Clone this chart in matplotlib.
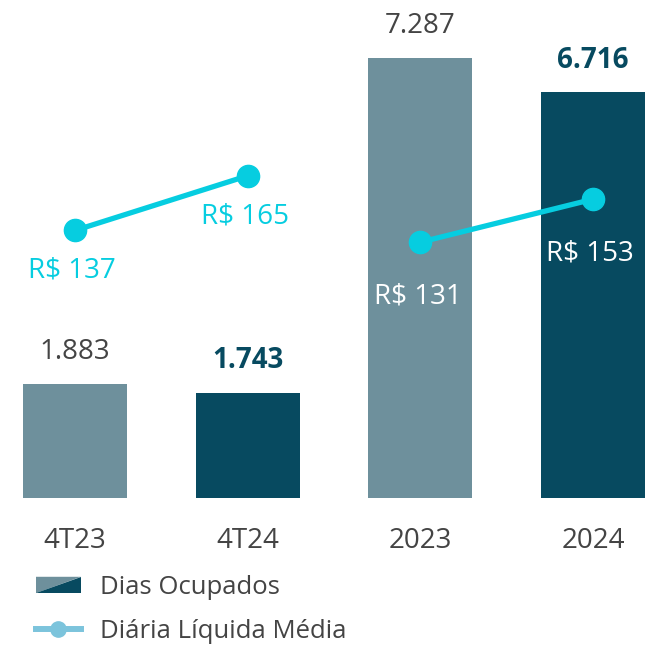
import numpy as np
import matplotlib.pyplot as plt
from matplotlib.patches import Polygon
from matplotlib.lines import Line2D
from matplotlib.legend_handler import HandlerBase

plt.rcParams['font.family'] = ['Open Sans', 'DejaVu Sans']

categories = ['4T23', '4T24', '2023', '2024']
dias_ocupados = [1883, 1743, 7287, 6716]
dias_labels = ['1.883', '1.743', '7.287', '6.716']
diaria_media = [137, 165, 131, 153]
diaria_labels = ['R$ 137', 'R$ 165', 'R$ 131', 'R$ 153']

light = '#6E909C'
dark = '#074A60'
cyan = '#06CDE0'
gray = '#444444'

bar_colors = [light, dark, light, dark]
label_colors = [gray, dark, gray, dark]
label_weights = ['normal', 'bold', 'normal', 'bold']

W, H = 666, 649
fig = plt.figure(figsize=(W / 100, H / 100), dpi=100)
base = 151
ax = fig.add_axes([0, base / H, 1, (H - base) / H])
x = np.arange(len(categories))
px_per_unit = 172.7
ax.set_xlim(-75 / px_per_unit, (W - 75) / px_per_unit)
ax.set_ylim(0, 8248)

ax.bar(x, dias_ocupados, width=104 / px_per_unit, color=bar_colors)
for xi, v, lab, c, w in zip(x, dias_ocupados, dias_labels, label_colors, label_weights):
    ax.annotate(lab, (xi, v), xytext=(0, 32), textcoords='offset pixels',
                ha='center', va='center', fontsize=20, color=c, fontweight=w)

ax.set_xticks(x)
ax.set_xticklabels(categories, fontsize=20, color=gray)
ax.tick_params(length=0, pad=21)
ax.set_yticks([])
for s in ax.spines.values():
    s.set_visible(False)

ax2 = ax.twinx()
ax2.set_ylim(0, 255)
ax2.set_yticks([])
for s in ax2.spines.values():
    s.set_visible(False)

for grp in (slice(0, 2), slice(2, 4)):
    ax2.plot(x[grp], diaria_media[grp], color=cyan, lw=3.8,
             marker='o', markersize=16, solid_capstyle='round')

label_offsets = [-40, -41, -54, -54]
txt_colors = [cyan, cyan, 'white', 'white']
for xi, v, lab, off, c in zip(x, diaria_media, diaria_labels, label_offsets, txt_colors):
    ax2.annotate(lab, (xi, v), xytext=(-3, off), textcoords='offset pixels',
                 ha='center', va='center', fontsize=20, color=c)


class SplitPatchHandler(HandlerBase):
    def create_artists(self, legend, orig, xd, yd, width, height, fontsize, trans):
        p1 = Polygon([[-xd, -yd], [-xd + width, -yd + height], [-xd, -yd + height]],
                     closed=True, facecolor=light, edgecolor='none', transform=trans)
        p2 = Polygon([[-xd, -yd], [-xd + width, -yd], [-xd + width, -yd + height]],
                     closed=True, facecolor=dark, edgecolor='none', transform=trans)
        return [p1, p2]


bar_handle = Polygon([[0, 0]])
line_handle = Line2D([], [], color='#7CC4DC', lw=4.3, marker='o', markersize=11)
leg = fig.legend([bar_handle, line_handle], ['Dias Ocupados', 'Diária Líquida Média'],
                 handler_map={Polygon: SplitPatchHandler()},
                 loc='upper left', bbox_to_anchor=(36 / W, 1 - 575 / H),
                 frameon=False, fontsize=18.5, labelcolor=gray,
                 handlelength=1.75, handleheight=0.6, handletextpad=0.74,
                 labelspacing=0.72, borderaxespad=0, borderpad=0)

fig.savefig('out.png', dpi=100)
